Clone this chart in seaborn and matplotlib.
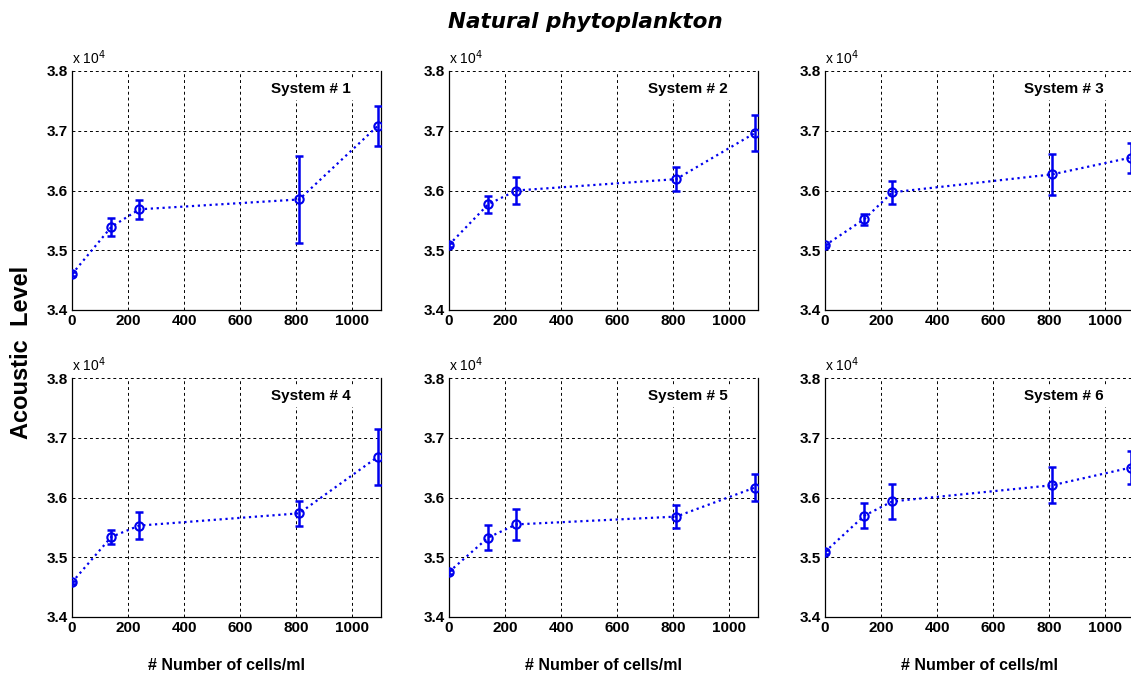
import numpy as np
import pandas as pd
import matplotlib
matplotlib.use("Agg")
import matplotlib.pyplot as plt
from matplotlib.ticker import FuncFormatter, MultipleLocator
import seaborn as sns

# Cell concentrations (cells/ml)
cells = [0, 140, 240, 810, 1090]

# Mean acoustic level per system and its error half-widths
level_sys1 = [34600, 35390, 35685, 35850, 37080]
err_sys1 = [30, 150, 160, 730, 340]
level_sys2 = [35090, 35770, 36000, 36190, 36960]
err_sys2 = [30, 140, 230, 200, 300]
level_sys3 = [35080, 35520, 35970, 36270, 36550]
err_sys3 = [30, 90, 190, 340, 250]
level_sys4 = [34580, 35340, 35530, 35735, 36680]
err_sys4 = [30, 120, 230, 210, 470]
level_sys5 = [34755, 35330, 35550, 35680, 36165]
err_sys5 = [30, 210, 260, 190, 230]
level_sys6 = [35090, 35695, 35935, 36205, 36500]
err_sys6 = [30, 210, 290, 300, 270]

system_names = ["System # 1", "System # 2", "System # 3",
                "System # 4", "System # 5", "System # 6"]
levels = [level_sys1, level_sys2, level_sys3, level_sys4, level_sys5, level_sys6]
errors = [err_sys1, err_sys2, err_sys3, err_sys4, err_sys5, err_sys6]

title_text = "Natural phytoplankton"
ylabel_text = "Acoustic  Level"
xlabel_text = "# Number of cells/ml"

sns.set_style("white")
plt.rcParams["font.family"] = ["Liberation Sans", "DejaVu Sans"]
plt.rcParams["text.color"] = "black"
plt.rcParams["axes.labelcolor"] = "black"

W, H = 1131, 681
fig = plt.figure(figsize=(W / 100, H / 100), dpi=100)

col_left = [72, 449, 825]
row_top = [71, 378]
ax_w, ax_h = 308.5, 239

line_color = "#0000ee"

for i, (name, lev, err) in enumerate(zip(system_names, levels, errors)):
    r, c = divmod(i, 3)
    left = col_left[c] / W
    bottom = (H - (row_top[r] + ax_h)) / H
    ax = fig.add_axes([left, bottom, ax_w / W, ax_h / H])

    df = pd.DataFrame({"cells": cells, "level": lev, "err": err})

    ax.errorbar(df["cells"], df["level"], yerr=df["err"], fmt="none",
                ecolor=line_color, elinewidth=1.8, capsize=3, capthick=1.8,
                zorder=3)
    sns.lineplot(data=df, x="cells", y="level", ax=ax, color=line_color,
                 linestyle=":", linewidth=1.6, marker="o", markersize=6,
                 markerfacecolor="none", markeredgecolor=line_color,
                 markeredgewidth=1.5, zorder=4)

    ax.set_xlim(0, 1100)
    ax.set_ylim(34000, 38000)
    ax.xaxis.set_major_locator(MultipleLocator(200))
    ax.yaxis.set_major_locator(MultipleLocator(1000))
    ax.yaxis.set_major_formatter(FuncFormatter(lambda v, p: f"{v / 1e4:.1f}"))
    ax.grid(True, color="black", linestyle=(0, (3, 3)), linewidth=0.7)
    ax.set_axisbelow(True)
    ax.tick_params(direction="in", length=4, labelsize=11, pad=3,
                   colors="black")
    for lbl in ax.get_xticklabels() + ax.get_yticklabels():
        lbl.set_fontweight("bold")
    ax.set_xlabel("")
    ax.set_ylabel("")
    for side in ["left", "bottom", "right"]:
        ax.spines[side].set_visible(True)
        ax.spines[side].set_color("black")
        ax.spines[side].set_linewidth(0.9)
    ax.spines["top"].set_visible(False)

    ax.text(0.775, 0.925, name, transform=ax.transAxes, ha="center",
            va="center", fontsize=11, fontweight="bold", zorder=5,
            bbox=dict(facecolor="white", edgecolor="none", pad=3))
    ax.text(0.0, 1.015, r"x 10$^4$", transform=ax.transAxes, ha="left",
            va="bottom", fontsize=10)

    if r == 1:
        fig.text((col_left[c] + ax_w / 2) / W, 1 - 666 / H, xlabel_text,
                 ha="center", va="center", fontsize=11.5, fontweight="bold")

fig.text(585 / W, 1 - 22 / H, title_text, ha="center", va="center",
         fontsize=15.5, fontweight="bold", fontstyle="italic",
         family=["DejaVu Sans"])
fig.text(22 / W, 1 - 352 / H, ylabel_text, ha="center", va="center",
         rotation=90, fontsize=17, fontweight="bold")

fig.savefig("out.png", dpi=100)
